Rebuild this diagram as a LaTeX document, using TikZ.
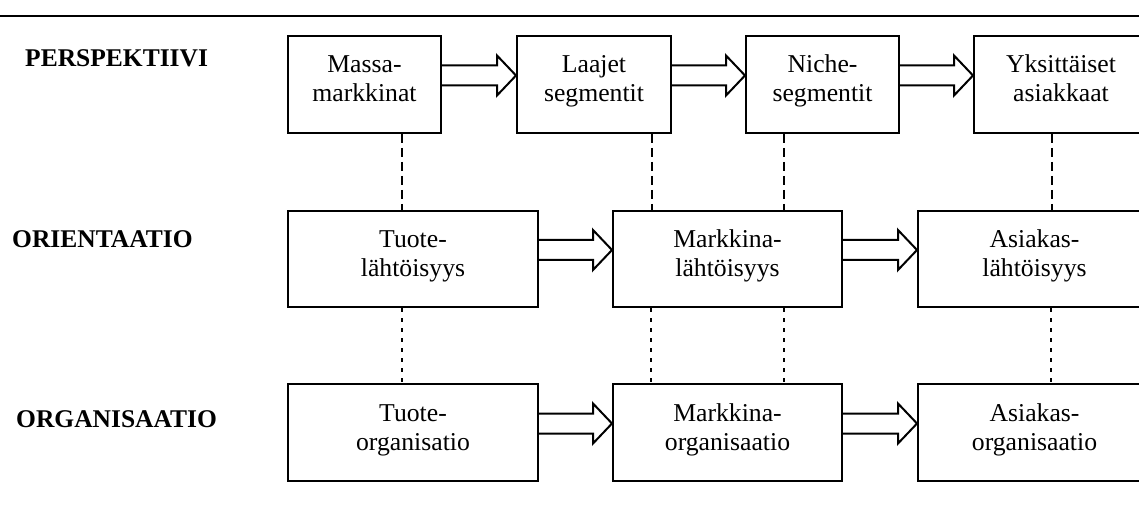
\documentclass[tikz,border=0pt]{standalone}
\usepackage{fontspec}
\setmainfont{Liberation Serif}
\usetikzlibrary{calc}

\tikzset{
  box/.style={draw, line width=2pt, rectangle, align=center, inner sep=0pt,
    font=\fontsize{25.7}{29}\selectfont, text height=47pt, text depth=12pt},
  rowlabel/.style={anchor=base west, inner sep=0pt,
    font=\fontsize{25.5}{28}\selectfont\bfseries},
  hollow/.style={draw, line width=2pt, line join=miter},
  longdash/.style={line width=1.6pt, dash pattern=on 9pt off 5pt},
  shortdash/.style={line width=1.8pt, dash pattern=on 4pt off 6pt},
  rule/.style={line width=2pt}
}

% hollow block arrow from the east side of #1 to the west side of #2
\newcommand\holarrow[2]{%
  \draw[hollow] ($(#1.east)+(0,-19)$) -- ($(#2.west)+(-19,-19)$)
    -- ($(#2.west)+(-19,-29)$) -- ($(#2.west)+(0,-9)$)
    -- ($(#2.west)+(-19,11)$) -- ($(#2.west)+(-19,1)$)
    -- ($(#1.east)+(0,1)$);
}

\begin{document}
\begin{tikzpicture}[x=1pt, y=-1pt]
  \clip (0,0) rectangle (1139,510);

  % top rule
  \coordinate (rl) at (0,16.5);
  \coordinate (rr) at (1139,16.5);
  \draw[rule] (rl) -- (rr);

  % row labels
  \node[rowlabel] (lp) at (25,67) {PERSPEKTIIVI};
  \node[rowlabel] (lo) at (12,248) {ORIENTAATIO};
  \node[rowlabel] (lg) at (16,427) {ORGANISAATIO};

  % perspective row
  \node[box, minimum width=153pt, minimum height=97pt] (m1) at (364.5,84.5) {Massa-\\markkinat};
  \node[box, minimum width=154pt, minimum height=97pt] (m2) at (594,84.5) {Laajet\\segmentit};
  \node[box, minimum width=153pt, minimum height=97pt] (m3) at (822.5,84.5) {Niche-\\segmentit};
  \node[box, minimum width=174pt, minimum height=97pt] (m4) at (1061,84.5) {Yksittäiset\\asiakkaat};

  % orientation row
  \node[box, minimum width=250pt, minimum height=96pt] (o1) at (413,259) {Tuote-\\lähtöisyys};
  \node[box, minimum width=229pt, minimum height=96pt] (o2) at (727.5,259) {Markkina-\\lähtöisyys};
  \node[box, minimum width=233pt, minimum height=96pt] (o3) at (1034.5,259) {Asiakas-\\lähtöisyys};

  % organisation row
  \node[box, minimum width=250pt, minimum height=97pt] (g1) at (413,432.5) {Tuote-\\organisatio};
  \node[box, minimum width=229pt, minimum height=97pt] (g2) at (727.5,432.5) {Markkina-\\organisaatio};
  \node[box, minimum width=233pt, minimum height=97pt] (g3) at (1034.5,432.5) {Asiakas-\\organisaatio};

  % block arrows
  \holarrow{m1}{m2}
  \holarrow{m2}{m3}
  \holarrow{m3}{m4}
  \holarrow{o1}{o2}
  \holarrow{o2}{o3}
  \holarrow{g1}{g2}
  \holarrow{g2}{g3}

  % links between perspective and orientation
  \draw[longdash] ([xshift=37.5pt]m1.south) -- ([xshift=37.5pt]m1.south |- o1.north);
  \draw[longdash] ([xshift=58pt]m2.south) -- ([xshift=58pt]m2.south |- o2.north);
  \draw[longdash] ([xshift=-38.5pt]m3.south) -- ([xshift=-38.5pt]m3.south |- o2.north);
  \draw[longdash] ([xshift=-9pt]m4.south) -- ([xshift=-9pt]m4.south |- o3.north);

  % links between orientation and organisation
  \draw[shortdash] ([xshift=-11pt]o1.south) -- ([xshift=-11pt]o1.south |- g1.north);
  \draw[shortdash] ([xshift=-76.5pt]o2.south) -- ([xshift=-76.5pt]o2.south |- g2.north);
  \draw[shortdash] ([xshift=56.5pt]o2.south) -- ([xshift=56.5pt]o2.south |- g2.north);
  \draw[shortdash] ([xshift=16.5pt]o3.south) -- ([xshift=16.5pt]o3.south |- g3.north);
\end{tikzpicture}
\end{document}
